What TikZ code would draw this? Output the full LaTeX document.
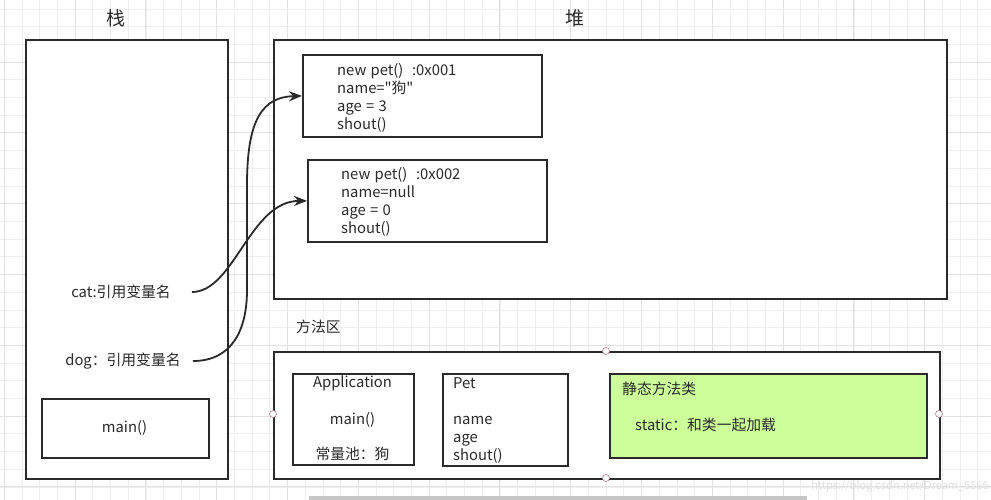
\documentclass[tikz,border=0pt]{standalone}
\usepackage{fontspec}
\setmainfont{Noto Sans CJK SC}[WordSpace=1.3]
\usetikzlibrary{arrows.meta}
\definecolor{ink}{HTML}{2A2A2A}
\definecolor{gridminor}{HTML}{EEEEEE}
\definecolor{gridmajor}{HTML}{E2E2E2}
\definecolor{greenfill}{HTML}{CCFF99}
\definecolor{handle}{HTML}{B07A88}
\tikzset{
  box/.style={draw=ink, line width=1.8pt, anchor=north west, inner sep=0pt, fill=white},
  txt/.style={text=ink, inner sep=0pt, font=\fontsize{14.8}{18}\selectfont},
  title/.style={text=ink, inner sep=0pt, font=\fontsize{19}{22}\selectfont},
  conn/.style={draw=ink, line width=1.8pt, -{Stealth[length=13pt,width=10pt]}},
  hdl/.style={circle, draw=handle, fill=white, line width=0.6pt, minimum size=7pt, inner sep=0pt},
}
\begin{document}
\begin{tikzpicture}[x=1pt,y=-1pt]
\useasboundingbox (0,0) rectangle (991,500);
\fill[white] (0,0) rectangle (991,500);
% grid
\foreach \i in {0,...,56} {
  \draw[gridminor, line width=0.6pt] ({4.2+17.7*\i},0) -- ({4.2+17.7*\i},500);
}
\foreach \j in {0,...,28} {
  \draw[gridminor, line width=0.6pt] (0,{8.9+17.7*\j}) -- (991,{8.9+17.7*\j});
}
\foreach \i in {0,...,14} {
  \draw[gridmajor, line width=0.7pt] ({4.2+70.8*\i},0) -- ({4.2+70.8*\i},500);
}
\foreach \j in {0,...,7} {
  \draw[gridmajor, line width=0.7pt] (0,{62+70.8*\j-70.8}) -- (991,{62+70.8*\j-70.8});
}

% titles
\node[title] (tstack) at (116,18) {栈};
\node[title] (theap) at (575,18) {堆};

% stack
\node[box, minimum width=202pt, minimum height=439pt] (stack) at (25,39) {};
\node[txt] (cat) at (121,292) {cat:引用变量名};
\node[txt] (dog) at (123,361) {dog：引用变量名};
\coordinate (catend) at (192,292);
\coordinate (dogend) at (193,361);
\node[box, minimum width=167pt, minimum height=59pt] (mainbox) at (41,398) {};
\node[txt] (maintxt) at (124.5,428) {main()};

% heap
\node[box, minimum width=673pt, minimum height=259pt] (heap) at (273,39) {};
\node[box, minimum width=239pt, minimum height=82pt] (obj1) at (302,54) {};
\node[txt, anchor=west, align=left] (obj1txt) at (337,97.5) {new pet()\ \ :0x001\\name=\textquotedbl 狗\textquotedbl\\age = 3\\shout()};
\node[box, minimum width=239pt, minimum height=82pt] (obj2) at (307,159) {};
\node[txt, anchor=west, align=left] (obj2txt) at (341,201.5) {new pet()\ \ :0x002\\name=null\\age = 0\\shout()};

% method area
\node[txt, anchor=west] (mlabel) at (296,327) {方法区};
\node[box, minimum width=666pt, minimum height=127pt] (method) at (273,351) {};
\node[box, minimum width=121pt, minimum height=91pt] (app) at (292,373) {};
\node[txt] (apptitle) at (352.5,383) {Application};
\node[txt] (appmain) at (352.5,420) {main()};
\node[txt] (apppool) at (352.5,454) {常量池：狗};
\node[box, minimum width=125pt, minimum height=92pt] (pet) at (442,373) {};
\node[txt, anchor=west] (pettitle) at (453,383) {Pet};
\node[txt, anchor=west, align=left] (petfields) at (453,439.5) {name\\age\\shout()};
\node[box, fill=greenfill, minimum width=317pt, minimum height=84pt] (static) at (609,373) {};
\node[txt, anchor=west] (stitle) at (622,389) {静态方法类};
\node[txt, anchor=west] (sbody) at (635,425) {static：和类一起加载};

% handles
\node[hdl] (h1) at (273,414) {};
\node[hdl] (h2) at (606,351) {};
\node[hdl] (h3) at (939,414) {};
\node[hdl] (h4) at (606,478) {};

% connectors
\draw[conn] (dogend) .. controls (232,361) and (247,330) .. (247,290) -- (247,185) .. controls (247,120) and (262,97) .. (obj1.west);
\draw[conn] (catend) .. controls (234,292) and (250,201) .. (obj2.west);

% bottom bar & watermark
\fill[gray!45] (309,496) rectangle (807,500);
\node[text=gray!25, inner sep=0pt, font=\fontsize{11}{13}\selectfont] (wm) at (900,486) {https://blog.csdn.net/Dream\_5566};
\end{tikzpicture}
\end{document}
